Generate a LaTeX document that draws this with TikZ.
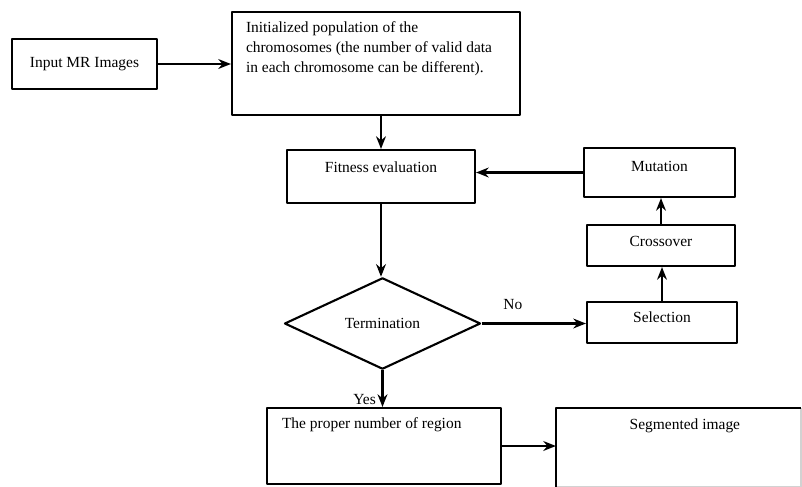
\documentclass[tikz,border=0pt]{standalone}
\usepackage{fontspec}
\setmainfont{Liberation Serif}
\usetikzlibrary{shapes.geometric,positioning,arrows.meta}
\begin{document}
\begin{tikzpicture}[line join=round,>={Stealth[length=9pt,width=7pt]},line width=1.5pt]
			\tikzset{every node/.style={font=\fontsize{11}{14}\selectfont},
				box/.style={draw,rectangle,inner sep=2pt},
				txt/.style={inner sep=0pt,align=left}}
			\useasboundingbox (0,0) rectangle (20.05,-12.175);
			\node[box,minimum width=3.625cm,minimum height=1.25cm] (input) at (2.1125,-1.6) {Input MR Images};
			\node[box,minimum width=7.2cm,minimum height=2.575cm] (init) at (9.4,-1.5875) {};
			\node[txt,below right=0.25cm and 0.35cm of init.north west] (inittxt) {Initialized population of the\\chromosomes (the number of valid data\\in each chromosome can be different).};
			\node[box,minimum width=4.7cm,minimum height=1.325cm,text depth=0.45cm] (fit) at (9.525,-4.4125) {Fitness evaluation};
			\node[box,minimum width=3.775cm,minimum height=1.225cm,text depth=0.3cm] (mut) at (16.4875,-4.3125) {Mutation};
			\node[box,minimum width=3.7cm,minimum height=1.025cm,text depth=0.2cm] (cross) at (16.525,-6.1375) {Crossover};
			\node[box,minimum width=3.75cm,minimum height=1.025cm,text depth=0.25cm] (sel) at (16.55,-8.0625) {Selection};
			\node[draw,diamond,minimum width=4.9cm,minimum height=1.775cm,inner sep=1pt] (term) at (9.5625,-8.0875) {Termination};
			\node[box,minimum width=5.85cm,minimum height=1.9cm] (proper) at (9.6,-11.15) {};
			\node[txt,below right=0.25cm and 0.375cm of proper.north west] (propertxt) {The proper number of region};
			% segmented image box, right and bottom edges faded
			\node[minimum width=6.075cm,minimum height=1.925cm] (seg) at (16.9625,-11.1875) {};
			\draw[gray!35,line width=0.8pt] (seg.north east)--(seg.south east)--(seg.south west);
			\draw (seg.south west)--(seg.north west)--(seg.north east);
			\node[txt,below=0.25cm of seg.north,xshift=0.16cm] (segtxt) {Segmented image};
			% connectors
			\draw[->] (input.east)--(input.east -| init.west);
			\draw[->] (fit.north |- init.south)--(fit.north);
			\draw[->] (fit.south)--(fit.south |- term.north);
			\draw[->] (term.east)--(term.east -| sel.west) node[pos=0.3,above=6pt] (no) {No};
			\draw[->] (sel.north)--(sel.north |- cross.south);
			\draw[->] (cross.north)--(cross.north |- mut.south);
			\draw[->] (mut.west)--(mut.west -| fit.east);
			\draw[->] (term.south)--(term.south |- proper.north) node[above left,inner sep=1pt,xshift=-3pt] (yes) {Yes};
			\draw[->] (proper.east)--(proper.east -| seg.west);
		\end{tikzpicture}
\end{document}
